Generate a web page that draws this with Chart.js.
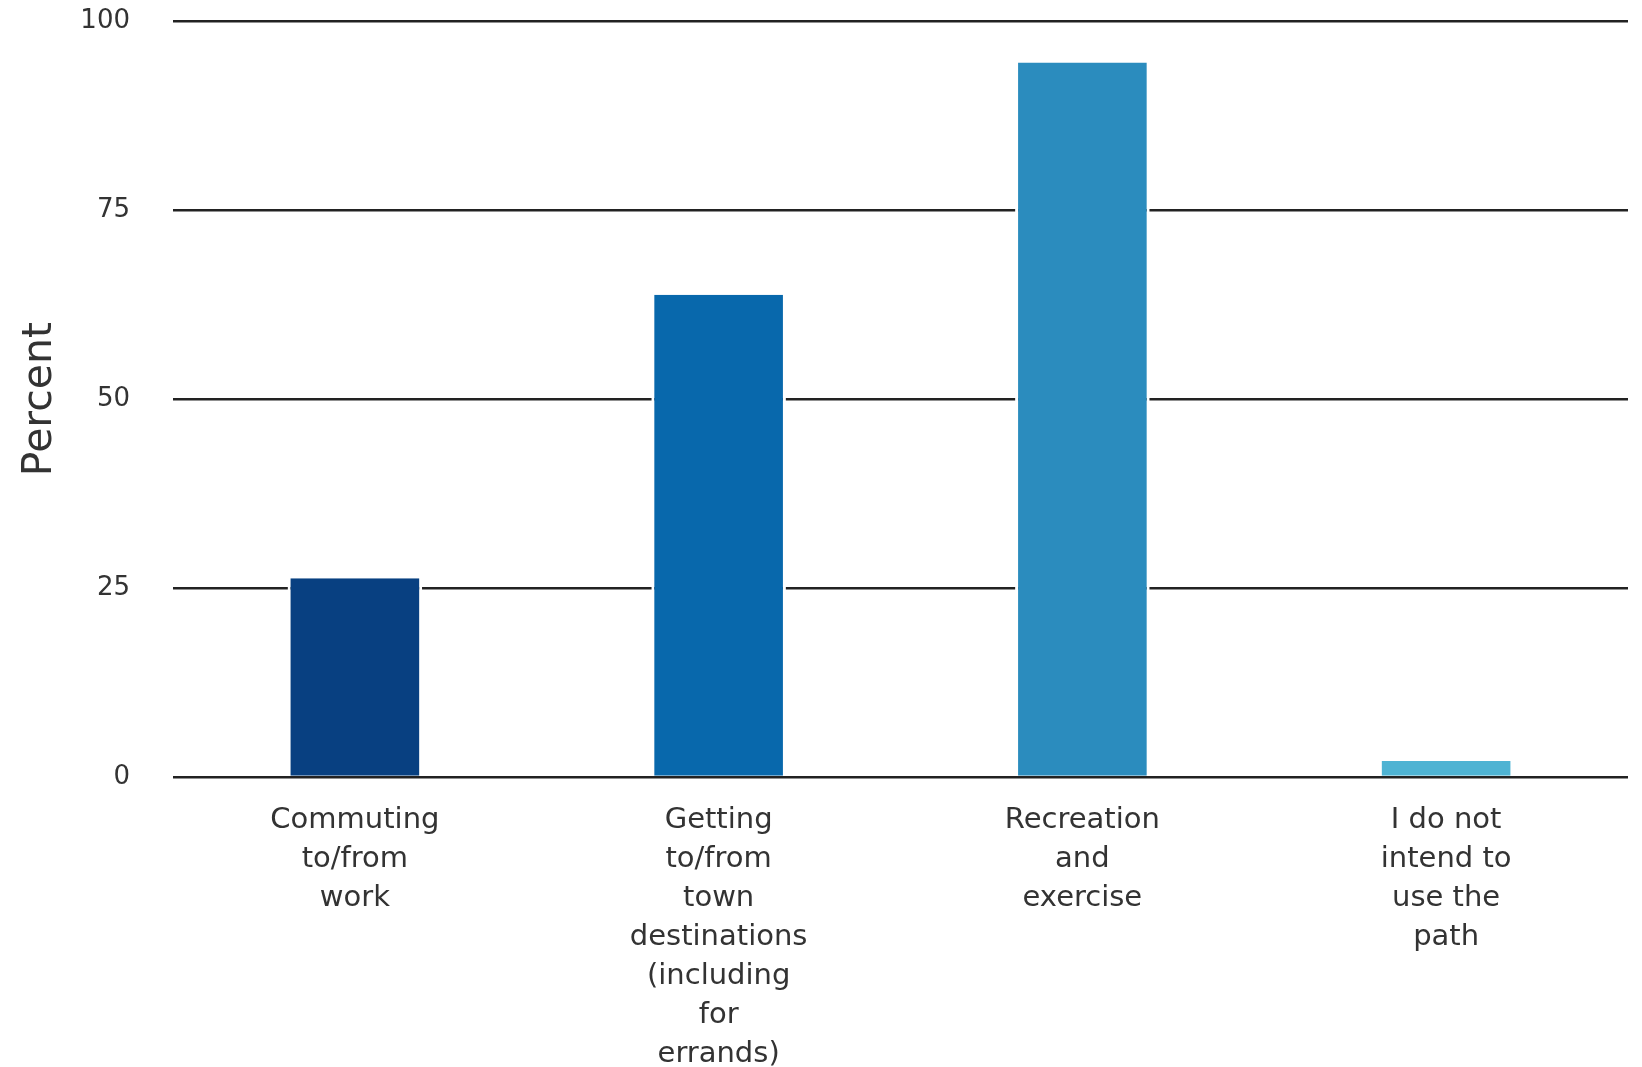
<!DOCTYPE html>
<html>
<head>
<meta charset="utf-8">
<script src="https://cdn.jsdelivr.net/npm/chart.js@4/dist/chart.umd.min.js"></script>
<style>
html,body{margin:0;padding:0;background:#fff;}
#wrap{width:1642px;height:1067px;}
</style>
</head>
<body>
<div id="wrap"><canvas id="c" width="1642" height="1067"></canvas></div>
<script>
const categories = [
  ["Commuting","to/from","work"],
  ["Getting","to/from","town","destinations","(including","for","errands)"],
  ["Recreation","and","exercise"],
  ["I do not","intend to","use the","path"]
];
const percentValues = [26.3, 63.8, 94.5, 2.1];
const barColors = ["#084081", "#0868ac", "#2b8cbe", "#4eb3d3"];
const yTicks = [0, 25, 50, 75, 100];
const yTitle = "Percent";

const FONT = "'DejaVu Sans', sans-serif";

new Chart(document.getElementById('c'), {
  type: 'bar',
  data: {
    labels: categories,
    datasets: [{
      data: percentValues,
      backgroundColor: barColors,
      borderColor: '#ffffff',
      borderWidth: {left: 3, right: 3, top: 0, bottom: 0},
      borderSkipped: false,
      barPercentage: 0.37,
      categoryPercentage: 1.0
    }]
  },
  options: {
    responsive: false,
    animation: false,
    layout: {padding: {top: 21, right: 14, left: 0, bottom: 0}},
    plugins: {legend: {display: false}, tooltip: {enabled: false}},
    scales: {
      x: {
        grid: {display: false},
        border: {display: false},
        ticks: {
          color: '#333',
          font: {family: FONT, size: 29, lineHeight: '39px'},
          padding: 16,
          maxRotation: 0,
          autoSkip: false
        },
        afterFit: (s) => { s.height = 290; s.paddingLeft = 0; s.paddingRight = 0; }
      },
      y: {
        min: 0, max: 100,
        afterBuildTicks: (s) => { s.ticks = yTicks.map(v => ({value: v})); },
        grid: {color: '#222', lineWidth: 2.5, drawTicks: false},
        border: {display: false},
        ticks: {
          color: '#333',
          font: {family: FONT, size: 26},
          padding: 43
        },
        title: {
          display: true,
          text: yTitle,
          color: '#333',
          font: {family: FONT, size: 41, lineHeight: 1.2},
          padding: {top: 16, bottom: 0}
        },
        afterFit: (s) => { s.width = 173; s.paddingTop = 0; s.paddingBottom = 0; }
      }
    }
  }
});
</script>
</body>
</html>
